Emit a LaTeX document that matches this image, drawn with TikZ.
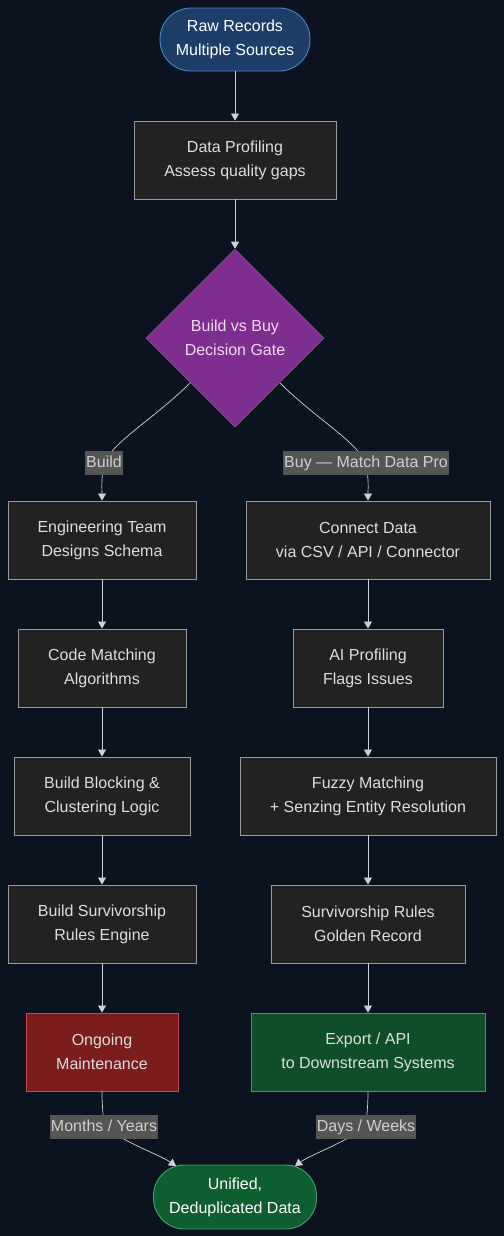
\documentclass[tikz,border=0pt]{standalone}
\usepackage{fontspec}
\setmainfont{Liberation Sans}
\usetikzlibrary{shapes.geometric,arrows.meta}
\definecolor{bgc}{HTML}{0C1320}
\definecolor{boxfill}{HTML}{222222}
\definecolor{boxline}{HTML}{9A9A9A}
\definecolor{txt}{HTML}{DDDDDD}
\definecolor{edgec}{HTML}{CDD1D8}
\definecolor{lblfill}{HTML}{555555}
\definecolor{lbltxt}{HTML}{CFCFCF}
\definecolor{rawfill}{HTML}{1E3D69}
\definecolor{rawline}{HTML}{4E86C4}
\definecolor{diafill}{HTML}{7E2E8E}
\definecolor{diatxt}{HTML}{F5D8F5}
\definecolor{redfill}{HTML}{7B1D1D}
\definecolor{redline}{HTML}{C84848}
\definecolor{grnfill}{HTML}{0F4F27}
\definecolor{grnline}{HTML}{3E9A66}
\definecolor{unifill}{HTML}{0F5E2F}
\definecolor{uniline}{HTML}{44A36E}
\tikzset{
  x=1bp, y=-1bp,
  every node/.style={font=\fontsize{16bp}{24bp}\selectfont, align=center, inner sep=0pt},
  box/.style={draw=boxline, fill=boxfill, text=txt, line width=0.9bp, minimum height=78bp},
  stadium/.style={rounded corners=31bp, line width=0.9bp, minimum height=63bp},
  lbl/.style={fill=lblfill, text=lbltxt, inner xsep=1bp, inner ysep=4bp, text height=12bp, text depth=4bp},
  arr/.style={draw=edgec, line width=0.7bp, -{Triangle[length=7bp,width=8bp]}},
}
\begin{document}
\begin{tikzpicture}
\useasboundingbox (0,0) rectangle (504,1236);
\fill[bgc] (-5,-5) rectangle (509,1241);

\node[stadium, draw=rawline, fill=rawfill, text=white, minimum width=150bp] (raw) at (235,39.5) {Raw Records\\Multiple Sources};
\node[box, minimum width=202bp] (prof) at (235,160) {Data Profiling\\Assess quality gaps};
\node[diamond, draw=diafill!80!white, fill=diafill, text=diatxt, line width=0.5bp, minimum width=178bp, minimum height=178bp] (dia) at (235,338) {Build vs Buy\\Decision Gate};

\node[box, minimum width=188bp] (eng) at (102,540) {Engineering Team\\Designs Schema};
\node[box, minimum width=168bp] (code) at (102,668) {Code Matching\\Algorithms};
\node[box, minimum width=176bp] (block) at (102,796) {Build Blocking \&\\Clustering Logic};
\node[box, minimum width=188bp] (surv) at (102,924) {Build Survivorship\\Rules Engine};
\node[box, draw=redline, fill=redfill, text=txt, minimum width=152bp] (maint) at (102,1052) {Ongoing\\Maintenance};

\node[box, minimum width=244bp] (conn) at (368,540) {Connect Data\\via CSV / API / Connector};
\node[box, minimum width=150bp] (aiprof) at (368,668) {AI Profiling\\Flags Issues};
\node[box, minimum width=256bp] (fuzzy) at (368,796) {Fuzzy Matching\\+ Senzing Entity Resolution};
\node[box, minimum width=194bp] (golden) at (368,924) {Survivorship Rules\\Golden Record};
\node[box, draw=grnline, fill=grnfill, text=txt, minimum width=234bp] (export) at (368,1052) {Export / API\\to Downstream Systems};

\node[stadium, draw=uniline, fill=unifill, text=white, minimum width=163bp, minimum height=64bp] (uni) at (235,1197) {Unified,\\Deduplicated Data};

\draw[arr] (raw) -- (prof);
\draw[arr] (prof) -- (dia);
\draw[arr] (dia.south west) .. controls (155,418) and (115,440) .. (104,463) node[lbl] (lbuild) {Build} .. controls (101,480) and (102,490) .. (eng.north);
\draw[arr] (dia.south east) .. controls (315,418) and (355,440) .. (366,463) node[lbl] (lbuy) {Buy — Match Data Pro} .. controls (369,480) and (368,490) .. (conn.north);

\draw[arr] (eng) -- (code);
\draw[arr] (code) -- (block);
\draw[arr] (block) -- (surv);
\draw[arr] (surv) -- (maint);
\draw[arr] (conn) -- (aiprof);
\draw[arr] (aiprof) -- (fuzzy);
\draw[arr] (fuzzy) -- (golden);
\draw[arr] (golden) -- (export);

\draw[arr] (maint.south) .. controls (102,1110) and (104,1120) .. (104,1127) node[lbl] (lmonths) {Months / Years} .. controls (130,1145) and (160,1155) .. (176,1166);
\draw[arr] (export.south) .. controls (368,1110) and (366,1120) .. (366,1127) node[lbl] (ldays) {Days / Weeks} .. controls (340,1145) and (310,1155) .. (295,1166);
\end{tikzpicture}
\end{document}
